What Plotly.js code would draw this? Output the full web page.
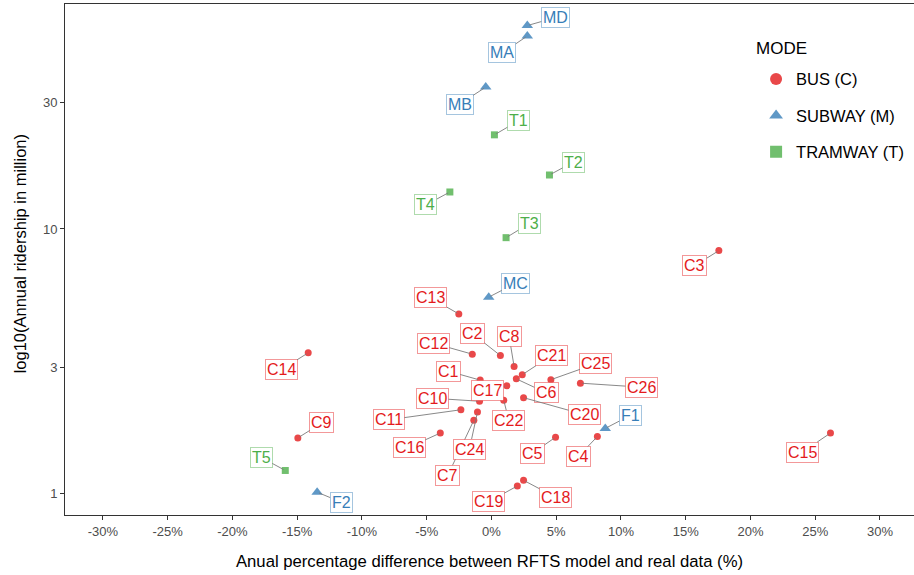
<!DOCTYPE html>
<html>
<head>
<meta charset="utf-8">
<script src="https://cdn.plot.ly/plotly-3.0.1.min.js"></script>
<style>html,body{margin:0;padding:0;background:#fff;}#chart{width:914px;height:575px;}</style>
</head>
<body>
<div id="chart"></div>
<script>
// ---- data ----
const busNames = ["C1","C2","C3","C4","C5","C6","C7","C8","C9","C10","C11","C12","C13","C14","C15","C16","C17","C18","C19","C20","C21","C22","C24","C25","C26"];
const busDiff  = [-0.87,0.69,17.56,8.18,4.95,1.92,-1.36,1.75,-14.95,-0.92,-2.36,-1.48,-2.52,-14.15,26.18,-3.95,1.19,2.48,2.00,2.48,2.38,0.95,-1.08,4.59,6.87];
const busRiders= [2.68,3.32,8.28,1.64,1.63,2.71,1.89,3.02,1.62,2.23,2.07,3.36,4.77,3.40,1.69,1.69,2.55,1.12,1.066,2.30,2.81,2.25,2.03,2.69,2.61];

const subwayNames = ["MA","MB","MC","MD","F1","F2"];
const subwayDiff  = [2.77,-0.44,-0.21,2.77,8.79,-13.46];
const subwayRiders= [53.7,34.4,5.52,58.8,1.76,1.01];

const tramNames = ["T1","T2","T3","T4","T5"];
const tramDiff  = [0.23,4.48,1.13,-3.21,-15.92];
const tramRiders= [22.7,16.0,9.27,13.8,1.22];

const xTickVals = [-30,-25,-20,-15,-10,-5,0,5,10,15,20,25,30];
const xTickText = ["-30%","-25%","-20%","-15%","-10%","-5%","0%","5%","10%","15%","20%","25%","30%"];
const yTickVals = [1,3,10,30];
const yTickText = ["1","3","10","30"];

// ---- label placement (pixel offsets of repelled labels) ----
const labelOffset = {
  MD:[28,-8], MA:[-25,17], MB:[-26,17], MC:[27,-14], F1:[25,-13], F2:[24,10],
  T1:[24,-14], T2:[24,-13], T3:[23,-14], T4:[-24,13], T5:[-24,-13],
  C1:[-32,-9], C2:[-28,-22], C3:[-24,15], C4:[-19,20], C5:[-23,16], C6:[30,14],
  C7:[-26,55], C8:[-5,-30], C9:[24,-15], C10:[-47,-3], C11:[-72,10], C12:[-39,-11],
  C13:[-28,-16], C14:[-27,17], C15:[-28,19], C16:[-31,14], C17:[-19,5], C18:[32,17],
  C19:[-29,16], C20:[61,17], C21:[29,-19], C22:[5,20], C24:[-8,37], C25:[45,-16], C26:[61,4]
};

const FONT = "Liberation Sans, Arial, sans-serif";
const groups = [
  {name:"BUS (C)", names:busNames, x:busDiff, y:busRiders, symbol:"circle", size:7,
   marker:"rgba(228,26,28,0.8)", text:"#E41A1C", border:"rgba(228,26,28,0.45)"},
  {name:"SUBWAY (M)", names:subwayNames, x:subwayDiff, y:subwayRiders, symbol:"triangle-up", size:10,
   marker:"rgba(55,126,184,0.8)", text:"#377EB8", border:"rgba(55,126,184,0.45)"},
  {name:"TRAMWAY (T)", names:tramNames, x:tramDiff, y:tramRiders, symbol:"square", size:7,
   marker:"rgba(77,175,74,0.8)", text:"#4DAF4A", border:"rgba(77,175,74,0.45)"}
];

const traces = groups.map((g,i) => ({
  type:"scatter", mode:"markers", name:g.name, legendgroup:"g"+i,
  x:g.x, y:g.y, text:g.names,
  marker:{symbol:g.symbol, size:g.size, color:g.marker, line:{width:0}},
  cliponaxis:false, hoverinfo:"text"
}));

const annotations = [];
groups.forEach(g => {
  g.names.forEach((n,k) => {
    const off = labelOffset[n] || [20,-15];
    annotations.push({
      x:g.x[k], y:Math.log10(g.y[k]), xref:"x", yref:"y",
      text:n, showarrow:true, arrowhead:0, arrowwidth:0.9, arrowcolor:"#7a7a7a",
      ax:off[0], ay:off[1], standoff:2,
      font:{family:FONT, size:16, color:g.text},
      bgcolor:"#ffffff", bordercolor:g.border, borderwidth:1, borderpad:1
    });
  });
});
annotations.push({
  text:"MODE", xref:"paper", yref:"paper", x:0.8115, y:0.912, xanchor:"left", yanchor:"middle",
  showarrow:false, font:{family:FONT, size:17, color:"#000"}
});
annotations.push({
  text:"log10(Annual ridership in million)", xref:"paper", yref:"paper",
  x:-0.0536, y:0.511, xanchor:"center", yanchor:"middle", textangle:-90,
  showarrow:false, font:{family:FONT, size:16.5, color:"#000"}
});

const layout = {
  width:914, height:575,
  margin:{l:65, r:0, t:4, b:60},
  paper_bgcolor:"#ffffff", plot_bgcolor:"#ffffff",
  font:{family:FONT, color:"#000"},
  xaxis:{
    range:[-32.93, 32.63], tickmode:"array", tickvals:xTickVals, ticktext:xTickText,
    showgrid:false, zeroline:false, showline:true, linecolor:"#333333", linewidth:1, mirror:true,
    ticks:"outside", ticklen:4, tickcolor:"#333333", automargin:false,
    tickfont:{family:FONT, size:13, color:"#4D4D4D"},
    title:{text:"Anual percentage difference between RFTS model and real data (%)",
           font:{family:FONT, size:16.7, color:"#000"}, standoff:17}
  },
  yaxis:{
    type:"log", range:[-0.0821, 1.851], tickmode:"array", tickvals:yTickVals, ticktext:yTickText,
    showgrid:false, zeroline:false, showline:true, linecolor:"#333333", linewidth:1,
    ticks:"outside", ticklen:4, tickcolor:"#333333", automargin:false,
    tickfont:{family:FONT, size:13, color:"#4D4D4D"}
  },
  legend:{
    x:0.814, y:0.887, xanchor:"left", yanchor:"top", bgcolor:"rgba(0,0,0,0)",
    font:{family:FONT, size:16.5, color:"#000"},
    tracegroupgap:12, itemsizing:"constant"
  },
  annotations:annotations,
  showlegend:true
};

Plotly.newPlot("chart", traces, layout, {displayModeBar:false, staticPlot:true});
</script>
</body>
</html>
